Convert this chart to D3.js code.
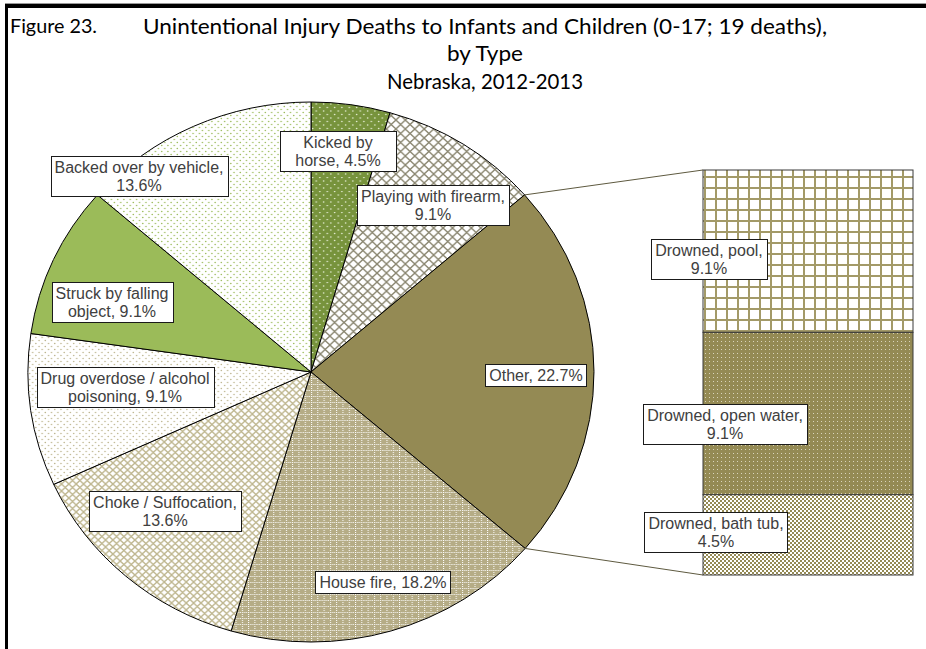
<!DOCTYPE html>
<html>
<head>
<meta charset="utf-8">
<script src="https://cdn.jsdelivr.net/npm/d3@7"></script>
<style>
  html, body { margin: 0; padding: 0; background: #fff; }
  svg { display: block; }
</style>
</head>
<body>
<svg id="chart" width="926" height="649"></svg>
<script>
// ---- data -------------------------------------------------------------
const pieNames = ["Kicked by\nhorse", "Playing with firearm", "Other", "House fire",
  "Choke / Suffocation", "Drug overdose / alcohol\npoisoning", "Struck by falling\nobject",
  "Backed over by vehicle"];
const pieValues = [4.5, 9.1, 22.7, 18.2, 13.6, 9.1, 9.1, 13.6];
const pieBreakAfterComma = [false, true, false, false, true, false, false, true];

const barNames = ["Drowned, pool", "Drowned, open water", "Drowned, bath tub"];
const barValues = [9.1, 9.1, 4.5];

const figureLabel = "Figure 23.";
const titleLines = ["Unintentional Injury Deaths to Infants and Children (0-17; 19 deaths),",
  "by Type", "Nebraska, 2012-2013"];

// ---- layout -----------------------------------------------------------
const W = 926, H = 649;
const cx = 311, cy = 372, rx = 283, ry = 270;
const bar = { x0: 703, x1: 913, y0: 170, y1: 575 };
const pieLabelPos = [[338, 151], [433, 205], [536, 375], [383, 582], [165, 511], [125, 387], [112, 302], [139, 176]];
const pieLabelMinW = [116, 0, 0, 0, 0, 0, 0, 0];
const barLabelPos = [[709, 259], [725, 424], [716, 532]];
const fills = ["url(#pKick)", "url(#pFirearm)", "#948A54", "url(#pFire)", "url(#pChoke)",
  "url(#pDrug)", "#9BBB59", "url(#pBacked)"];
const barFills = ["url(#pPool)", "url(#pOpen)", "url(#pBath)"];

const svg = d3.select("#chart");
svg.append("rect").attr("width", W).attr("height", H).attr("fill", "#fff");

// ---- fill patterns ----------------------------------------------------
const defs = svg.append("defs");
function pattern(id, w, h, bg) {
  const p = defs.append("pattern").attr("id", id).attr("patternUnits", "userSpaceOnUse")
    .attr("width", w).attr("height", h);
  p.append("rect").attr("width", w).attr("height", h).attr("fill", bg);
  return p;
}
function dots(p, pts, r, color) {
  pts.forEach(([x, y]) => p.append("circle").attr("cx", x).attr("cy", y).attr("r", r).attr("fill", color));
}
function lattice(p, s, color, sw) {
  p.append("path").attr("d", `M-1,-1L${s + 1},${s + 1}M${s + 1},-1L-1,${s + 1}`)
    .attr("stroke", color).attr("stroke-width", sw).attr("fill", "none");
}
dots(pattern("pKick", 7, 7, "#77933C"), [[1.5, 1.5], [5, 5]], 0.8, "#e6eed6");
lattice(pattern("pFirearm", 9, 9, "#fff"), 9, "#8A8670", 1.3);
lattice(pattern("pChoke", 7, 7, "#fff"), 7, "#BFB790", 1.3);
dots(pattern("pDrug", 6, 6, "#fff"), [[1.5, 1.5], [4.5, 4.5]], 0.75, "#BDB58E");
dots(pattern("pBacked", 6, 6, "#fff"), [[1.5, 1.5], [4.5, 4.5]], 0.75, "#9BBB59");
{
  const p = pattern("pFire", 6, 6, "#B5AC86");
  [[0, 0], [2, 0], [4, 0], [0, 2], [0, 4]].forEach(([x, y]) =>
    p.append("rect").attr("x", x).attr("y", y).attr("width", 1).attr("height", 1).attr("fill", "#fff"));
}
{
  const p = pattern("pPool", 11, 11, "#fff");
  p.append("rect").attr("width", 11).attr("height", 2).attr("fill", "#A39A68");
  p.append("rect").attr("width", 2).attr("height", 11).attr("fill", "#A39A68");
}
{
  const p = pattern("pOpen", 4, 4, "#948A54");
  p.append("rect").attr("x", 1).attr("y", 1).attr("width", 1).attr("height", 1).attr("fill", "#D9D4BC");
}
{
  const p = pattern("pBath", 4, 4, "#fff");
  p.append("rect").attr("width", 2).attr("height", 2).attr("fill", "#948A54");
  p.append("rect").attr("x", 2).attr("y", 2).attr("width", 2).attr("height", 2).attr("fill", "#948A54");
}

// ---- frame ------------------------------------------------------------
svg.append("rect").attr("x", 5).attr("y", 3).attr("width", W - 5).attr("height", 1).attr("fill", "#999");
svg.append("rect").attr("x", 5).attr("y", 4).attr("width", W - 5).attr("height", 4).attr("fill", "#000");
svg.append("rect").attr("x", 5).attr("y", 4).attr("width", 3).attr("height", H - 4).attr("fill", "#000");

// ---- titles -----------------------------------------------------------
const titleFont = "Lato, 'Open Sans', sans-serif";
svg.append("text").attr("x", 10).attr("y", 33).text(figureLabel)
  .attr("font-family", titleFont).attr("font-size", 19).attr("fill", "#000")
  .attr("textLength", 87).attr("lengthAdjust", "spacingAndGlyphs");
const titleY = [34, 61, 89];
const titleLen = [684, 76, 196];
titleLines.forEach((t, i) => {
  svg.append("text").attr("x", 485).attr("y", titleY[i]).attr("text-anchor", "middle").text(t)
    .attr("font-family", titleFont).attr("font-size", 21).attr("fill", "#000")
    .attr("textLength", titleLen[i]).attr("lengthAdjust", "spacingAndGlyphs");
});

// ---- pie (drawn on a circle, stretched horizontally) -------------------
const pie = d3.pie().sort(null).value(d => d)(pieValues);
const arc = d3.arc().innerRadius(0).outerRadius(ry);
const pieG = svg.append("g").attr("transform", `translate(${cx},${cy}) scale(${rx / ry},1)`);
pieG.selectAll("path").data(pie).join("path")
  .attr("d", arc)
  .attr("fill", (d, i) => fills[i])
  .attr("stroke", "#000").attr("stroke-width", 1)
  .attr("vector-effect", "non-scaling-stroke");

// ---- breakdown bar ----------------------------------------------------
const otherIdx = pieNames.indexOf("Other");
const otherTotal = d3.sum(barValues);
const yBar = d3.scaleLinear().domain([0, otherTotal]).range([bar.y0, bar.y1]);
const stackStarts = barValues.map((v, i) => d3.sum(barValues.slice(0, i)));
svg.append("g").selectAll("rect").data(barValues).join("rect")
  .attr("x", bar.x0).attr("width", bar.x1 - bar.x0)
  .attr("y", (d, i) => yBar(stackStarts[i]))
  .attr("height", d => yBar(d) - yBar(0))
  .attr("fill", (d, i) => barFills[i])
  .attr("stroke", "#3a3a3a").attr("stroke-width", 1);

// connector lines from the "Other" slice edges to the bar corners
const ep = a => [cx + rx * Math.sin(a), cy - ry * Math.cos(a)];
const oSlice = pie[otherIdx];
[[ep(oSlice.startAngle), [bar.x0, yBar(0)]], [ep(oSlice.endAngle), [bar.x0, yBar(otherTotal)]]]
  .forEach(([a, b]) => {
    svg.append("line").attr("x1", a[0]).attr("y1", a[1]).attr("x2", b[0]).attr("y2", b[1])
      .attr("stroke", "#5E5A40").attr("stroke-width", 1);
  });

// ---- data labels ------------------------------------------------------
const lineH = 18;
function label(pos, lines, minW) {
  const g = svg.append("g");
  const rect = g.append("rect");
  const t = g.append("text").attr("font-family", "'Liberation Sans', Arial, sans-serif")
    .attr("font-size", 16).attr("fill", "#404040").attr("text-anchor", "middle");
  lines.forEach((ln, i) => {
    t.append("tspan").attr("x", pos[0])
      .attr("y", pos[1] + (i - (lines.length - 1) / 2) * lineH + 5.5).text(ln);
  });
  const bb = t.node().getBBox();
  const w = Math.max(bb.width + 8, minW || 0), h = lines.length * lineH + 4;
  rect.attr("x", Math.round(pos[0] - w / 2) + 0.5).attr("y", Math.round(pos[1] - h / 2) + 0.5)
    .attr("width", Math.round(w)).attr("height", Math.round(h))
    .attr("fill", "#fff").attr("stroke", "#1a1a1a").attr("stroke-width", 1);
}
pieValues.forEach((v, i) => {
  const txt = pieNames[i] + (pieBreakAfterComma[i] ? ",\n" : ", ") + v.toFixed(1) + "%";
  label(pieLabelPos[i], txt.split("\n"), pieLabelMinW[i]);
});
barValues.forEach((v, i) => {
  label(barLabelPos[i], (barNames[i] + ",\n" + v.toFixed(1) + "%").split("\n"), 0);
});
</script>
</body>
</html>
